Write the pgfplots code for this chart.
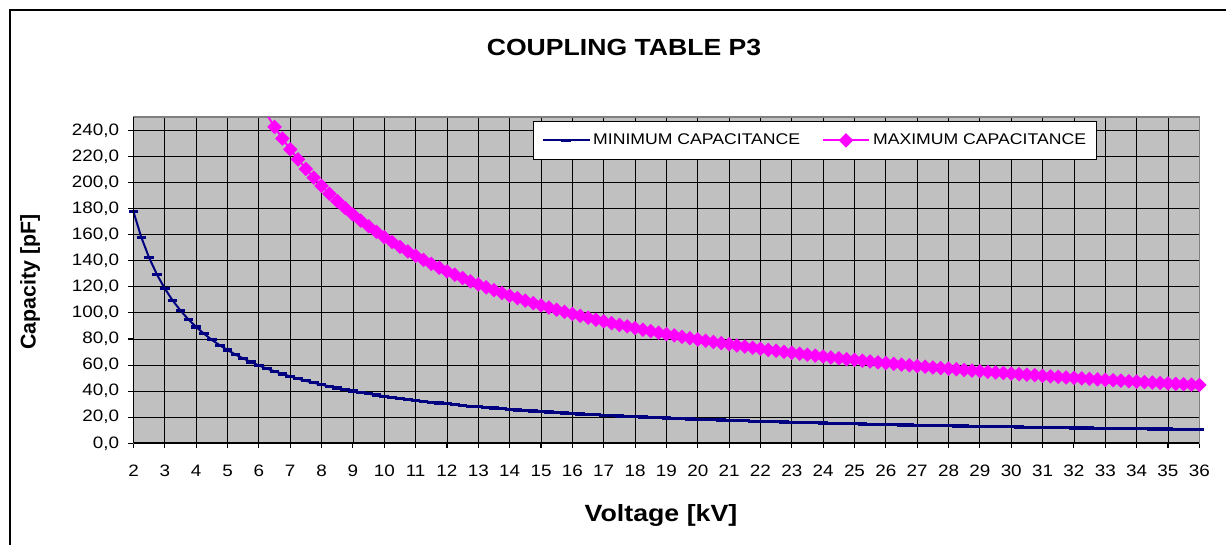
\documentclass[border=0pt]{standalone}
\usepackage{fontspec}
\setmainfont{Liberation Sans}[FakeStretch=1.14]
\newfontfamily\plainsans{Liberation Sans}
\usepackage{pgfplots}
\usepackage{pgfplotstable}
\pgfplotsset{compat=1.18}
\definecolor{plotgray}{HTML}{C0C0C0}
\definecolor{navyline}{HTML}{000080}
\definecolor{magline}{HTML}{FF00FF}

\pgfplotstableread{
V C
2.00 177.5
2.25 157.9
2.50 142.2
2.75 129.3
3.00 118.6
3.25 109.5
3.50 101.8
3.75 95.0
4.00 89.2
4.25 84.0
4.50 79.3
4.75 75.2
5.00 71.5
5.25 68.1
5.50 65.1
5.75 62.3
6.00 59.7
6.25 57.3
6.50 55.2
6.75 53.2
7.00 51.3
7.25 49.5
7.50 47.9
7.75 46.4
8.00 45.0
8.25 43.6
8.50 42.4
8.75 41.2
9.00 40.1
9.25 39.0
9.50 38.0
9.75 37.0
10.00 36.1
10.25 35.3
10.50 34.5
10.75 33.7
11.00 32.9
11.25 32.2
11.50 31.5
11.75 30.9
12.00 30.3
12.25 29.6
12.50 29.1
12.75 28.5
13.00 28.0
13.25 27.5
13.50 27.0
13.75 26.5
14.00 26.0
14.25 25.6
14.50 25.2
14.75 24.8
15.00 24.4
15.25 24.0
15.50 23.6
15.75 23.2
16.00 22.9
16.25 22.5
16.50 22.2
16.75 21.9
17.00 21.6
17.25 21.3
17.50 21.0
17.75 20.7
18.00 20.4
18.25 20.2
18.50 19.9
18.75 19.6
19.00 19.4
19.25 19.2
19.50 18.9
19.75 18.7
20.00 18.5
20.25 18.3
20.50 18.0
20.75 17.8
21.00 17.6
21.25 17.4
21.50 17.2
21.75 17.0
22.00 16.9
22.25 16.7
22.50 16.5
22.75 16.3
23.00 16.2
23.25 16.0
23.50 15.8
23.75 15.7
24.00 15.5
24.25 15.4
24.50 15.2
24.75 15.1
25.00 14.9
25.25 14.8
25.50 14.7
25.75 14.5
26.00 14.4
26.25 14.3
26.50 14.1
26.75 14.0
27.00 13.9
27.25 13.8
27.50 13.7
27.75 13.5
28.00 13.4
28.25 13.3
28.50 13.2
28.75 13.1
29.00 13.0
29.25 12.9
29.50 12.8
29.75 12.7
30.00 12.6
30.25 12.5
30.50 12.4
30.75 12.3
31.00 12.2
31.25 12.1
31.50 12.0
31.75 11.9
32.00 11.8
32.25 11.8
32.50 11.7
32.75 11.6
33.00 11.5
33.25 11.4
33.50 11.3
33.75 11.3
34.00 11.2
34.25 11.1
34.50 11.0
34.75 11.0
35.00 10.9
35.25 10.8
35.50 10.8
35.75 10.7
36.00 10.6
}\mintable

\pgfplotstableread{
V C
6.25 252.3
6.50 242.6
6.75 233.7
7.00 225.4
7.25 217.7
7.50 210.4
7.75 203.7
8.00 197.4
8.25 191.4
8.50 185.8
8.75 180.5
9.00 175.5
9.25 170.8
9.50 166.4
9.75 162.1
10.00 158.1
10.25 154.3
10.50 150.6
10.75 147.1
11.00 143.8
11.25 140.7
11.50 137.6
11.75 134.7
12.00 131.9
12.25 129.3
12.50 126.7
12.75 124.2
13.00 121.9
13.25 119.6
13.50 117.4
13.75 115.3
14.00 113.2
14.25 111.3
14.50 109.4
14.75 107.5
15.00 105.8
15.25 104.1
15.50 102.4
15.75 100.8
16.00 99.2
16.25 97.7
16.50 96.3
16.75 94.8
17.00 93.5
17.25 92.1
17.50 90.8
17.75 89.6
18.00 88.3
18.25 87.1
18.50 86.0
18.75 84.8
19.00 83.7
19.25 82.7
19.50 81.6
19.75 80.6
20.00 79.6
20.25 78.6
20.50 77.7
20.75 76.8
21.00 75.9
21.25 75.0
21.50 74.1
21.75 73.3
22.00 72.5
22.25 71.7
22.50 70.9
22.75 70.1
23.00 69.4
23.25 68.6
23.50 67.9
23.75 67.2
24.00 66.5
24.25 65.8
24.50 65.2
24.75 64.5
25.00 63.9
25.25 63.3
25.50 62.7
25.75 62.1
26.00 61.5
26.25 60.9
26.50 60.3
26.75 59.8
27.00 59.2
27.25 58.7
27.50 58.2
27.75 57.7
28.00 57.2
28.25 56.7
28.50 56.2
28.75 55.7
29.00 55.2
29.25 54.8
29.50 54.3
29.75 53.9
30.00 53.4
30.25 53.0
30.50 52.6
30.75 52.2
31.00 51.7
31.25 51.3
31.50 50.9
31.75 50.5
32.00 50.2
32.25 49.8
32.50 49.4
32.75 49.0
33.00 48.7
33.25 48.3
33.50 48.0
33.75 47.6
34.00 47.3
34.25 46.9
34.50 46.6
34.75 46.3
35.00 45.9
35.25 45.6
35.50 45.3
35.75 45.0
36.00 44.7
}\maxtable

\begin{document}
\begin{tikzpicture}
\begin{axis}[
  at={(0,0)}, anchor=south west,
  scale only axis, width=799.35pt, height=244.5pt,
  xmin=2, xmax=36, ymin=0, ymax=250,
  xtick={2,...,36}, ytick={0,20,...,240},
  xtick pos=bottom, ytick pos=left,
  grid=major, major grid style={draw=black, line width=0.6pt},
  axis background/.style={fill=plotgray},
  axis line style={draw=gray, line width=1.2pt},
  tick align=outside, major tick length=3.75pt,
  tick style={draw=black, line width=0.8pt},
  ticklabel style={font=\fontsize{12.4}{14}\selectfont},
  xticklabel shift=9pt, yticklabel shift=3.5pt,
  /pgf/number format/assume math mode=true,
  yticklabel style={/pgf/number format/.cd, fixed, fixed zerofill, precision=1, use comma},
  xticklabel style={/pgf/number format/.cd, fixed, precision=0},
  legend columns=2,
  legend cell align=left,
  legend style={at={(0.375,0.9887)}, anchor=north west, draw=black, line width=0.6pt,
    fill=white, font=\fontsize{11.6}{13}\selectfont, inner xsep=6pt, inner ysep=7.5pt,
    /tikz/every even column/.append style={column sep=14pt}},
  legend image code/.code={\draw[mark repeat=2,mark phase=2,#1] plot coordinates {(0pt,0pt) (17.6pt,0pt) (35.2pt,0pt)};},
]
\addplot[navyline, line width=1.5pt, mark=-, mark size=3.6pt, mark options={line width=2.4pt, solid}] table[x=V,y=C] {\mintable};
\addlegendentry{MINIMUM CAPACITANCE}
\addplot[magline, line width=1.5pt, mark=square*, mark size=3.1pt, mark options={rotate=45, solid, fill=magline}] table[x=V,y=C] {\maxtable};
\addlegendentry{MAXIMUM CAPACITANCE}
\end{axis}
\begin{scope}[x=0.75pt,y=0.75pt]
  \draw[black, line width=1.3pt] (0,0) -- (0,326);
  \draw[black, line width=1.3pt] (0,0) -- (1065.8,0);
  \node[font=\bfseries\fontsize{17.5}{20}\selectfont] at (490.5,396.3) {COUPLING TABLE P3};
  \node[font=\bfseries\fontsize{17.6}{20}\selectfont] at (527.5,-71.7) {Voltage [kV]};
  \node[font=\plainsans\bfseries\fontsize{16}{19}\selectfont, rotate=90] at (-103.5,161.3) {Capacity [pF]};
  \draw[black, line width=1.5pt] (-123.5,-101.7) -- (-123.5,433.3) -- (1092.5,433.3);
  \pgfresetboundingbox
  \useasboundingbox (-133.5,-101.7) rectangle (1092.5,443.3);
\end{scope}
\end{tikzpicture}
\end{document}
